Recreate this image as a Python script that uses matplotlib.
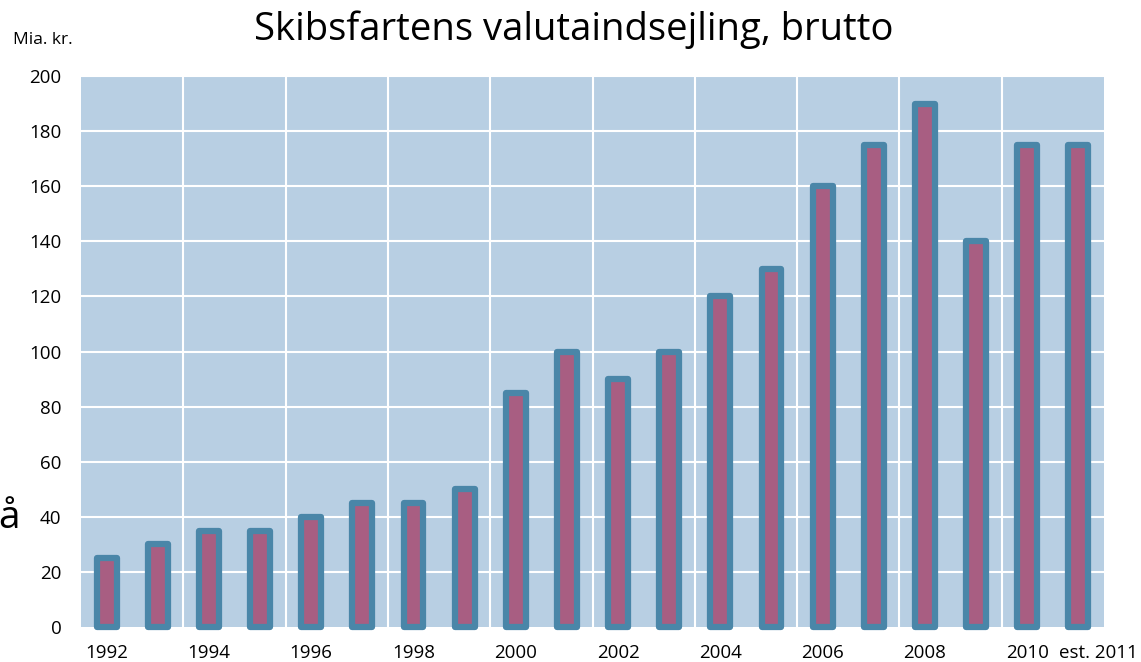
import matplotlib
matplotlib.use("Agg")
import matplotlib.pyplot as plt
import matplotlib.transforms as mtransforms
import numpy as np

years = ["1992", "1993", "1994", "1995", "1996", "1997", "1998", "1999", "2000", "2001",
         "2002", "2003", "2004", "2005", "2006", "2007", "2008", "2009", "2010", "est. 2011"]
values = [25, 30, 35, 35, 40, 45, 45, 50, 85, 100, 90, 100, 120, 130, 160, 175, 190, 140, 175, 175]
tick_labels = ["1992", "", "1994", "", "1996", "", "1998", "", "2000", "", "2002", "",
               "2004", "", "2006", "", "2008", "", "2010", "est. 2011"]
yticks = [0, 20, 40, 60, 80, 100, 120, 140, 160, 180, 200]

plt.rcParams['font.family'] = ['Open Sans', 'DejaVu Sans']

fig = plt.figure(figsize=(11.41, 6.62), dpi=100)
ax = fig.add_axes([81/1141, 1 - 627/662, (1104-81)/1141, (627-76)/662])
ax.set_facecolor("#b8cfe3")

x = np.arange(len(values))
ax.bar(x, values, width=0.39, color="#a85e82", edgecolor="#4a86a8", linewidth=4.5,
       joinstyle="round", zorder=3, clip_on=False)

ax.set_xlim(-0.5, len(values) - 0.5)
ax.set_ylim(0, 200)
ax.set_yticks(yticks)
ax.set_yticklabels([str(v) for v in yticks], fontsize=13.5)
ax.set_xticks(x)
ax.set_xticklabels(tick_labels, fontsize=13.5)
ax.tick_params(axis='x', length=0, pad=12)
ax.tick_params(axis='y', length=0, pad=14)

# shift the last label right, as in the reference, to avoid overlap with "2010"
last = ax.get_xticklabels()[-1]
last.set_transform(last.get_transform() +
                   mtransforms.ScaledTranslation(20/100, 0, fig.dpi_scale_trans))

for v in yticks[1:]:
    ax.axhline(v, color="white", lw=1.5, zorder=1)
for b in np.arange(1.5, len(values) - 0.5, 2):
    ax.axvline(b, color="white", lw=1.5, zorder=1)
for s in ax.spines.values():
    s.set_visible(False)

fig.text(574/1141, 1 - 30/662, "Skibsfartens valutaindsejling, brutto", fontsize=27.5,
         ha="center", va="center")
fig.text(13/1141, 1 - 40/662, "Mia. kr.", fontsize=12.5, ha="left", va="center")
fig.text(-2/1141, 1 - 518/662, "å", fontsize=28, ha="left", va="center")

fig.savefig("out.png", dpi=100)
